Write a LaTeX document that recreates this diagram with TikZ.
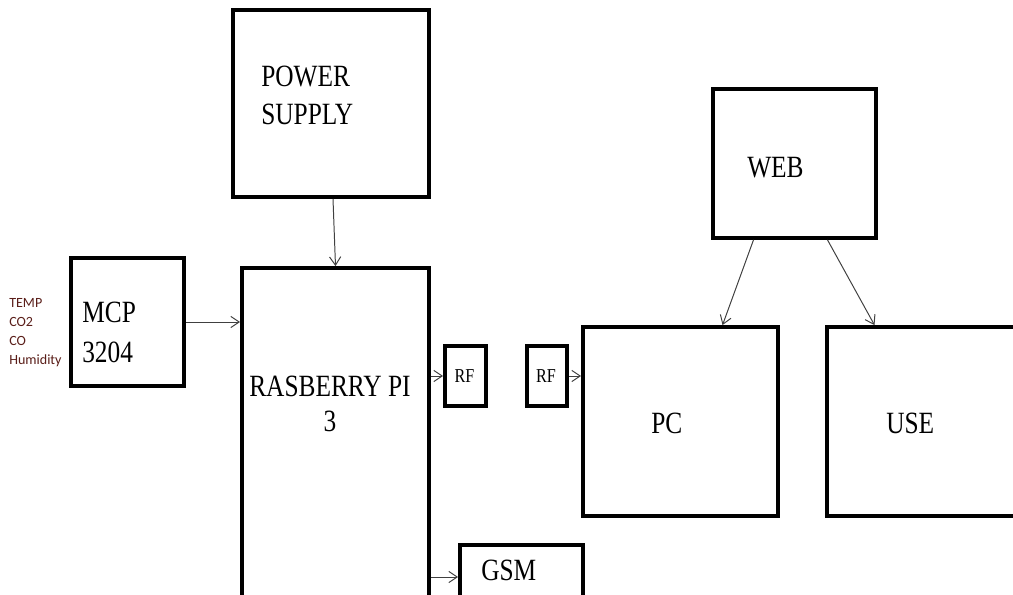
\documentclass[tikz,border=0pt]{standalone}
\usepackage{fontspec}
\setmainfont{Liberation Serif}
\newfontfamily\boxfont[FakeStretch=0.82]{Liberation Serif}
\newfontfamily\sensorfont{Carlito}
\usetikzlibrary{arrows.meta}
\newcommand{\px}{0.025cm}
\newcommand{\bigtxt}[1]{\boxfont\fontsize{22pt}{#1}\selectfont}
\definecolor{sensorred}{RGB}{90,30,25}
\definecolor{wiregray}{RGB}{64,64,64}

\begin{document}
\begin{tikzpicture}[
  x=\px, y=-\px,
  box/.style 2 args={draw, line width=2.7pt, inner sep=0pt,
    minimum width=#1*\px, minimum height=#2*\px},
  lbl/.style={inner sep=0pt, anchor=base west, font=\bigtxt{27pt}},
  arr/.style={draw=wiregray, line width=0.7pt, -{Straight Barb[length=6pt, width=8pt]}}
]
  \useasboundingbox (0,0) rectangle (1013,594);
  \clip (0,0) rectangle (1013,594);

  % blocks
  \node[box={196}{187}] (power) at (331,103.5) {};
  \node[box={113}{128}] (mcp) at (127.5,322) {};
  \node[box={187}{352}] (pi) at (335.5,444) {};
  \node[box={41}{60}] (rf1) at (465.5,376) {};
  \node[box={40}{60}] (rf2) at (547,376) {};
  \node[box={195}{189}] (pc) at (680.5,421.5) {};
  \node[box={213}{189}] (use) at (933.5,421.5) {};
  \node[box={163}{149}] (web) at (794.5,163.5) {};
  \node[box={123}{64}] (gsm) at (521.5,577) {};

  % texts
  \node[lbl, anchor=north west, align=left] (powertxt) at (261,66) {POWER\\SUPPLY};
  \node[lbl, anchor=north west, align=left, font=\bigtxt{28pt}] (mcptxt) at (82,302) {MCP\\3204};
  \node[lbl, anchor=north, align=center, font=\bigtxt{25pt}] (pitxt) at (330,376) {RASBERRY PI\\3};
  \node[lbl, anchor=base, font=\boxfont\fontsize{14pt}{16pt}\selectfont] (rf1txt) at (464.5,382) {RF};
  \node[lbl, anchor=base, font=\boxfont\fontsize{14pt}{16pt}\selectfont] (rf2txt) at (546,382) {RF};
  \node[lbl] (pctxt) at (651,433) {PC};
  \node[lbl] (usetxt) at (886,433) {USE};
  \node[lbl] (webtxt) at (747,177) {WEB};
  \node[lbl] (gsmtxt) at (481,580) {GSM};
  \node[inner sep=0pt, anchor=north west, align=left, text=sensorred,
    font=\sensorfont\fontsize{10pt}{13.5pt}\selectfont] (sensors) at (9,298)
    {TEMP\\CO2\\CO\\Humidity};

  % connectors
  \draw[arr] ([xshift=2*\px]power.south) -- (pi.north);
  \draw[arr] (mcp.east) -- (mcp.east -| pi.west);
  \draw[arr] (rf1.west -| pi.east) -- (rf1.west);
  \draw[arr] (rf2.east) -- (rf2.east -| pc.west);
  \draw[arr] ([xshift=-41*\px]web.south) -- ([xshift=42*\px]pc.north);
  \draw[arr] ([xshift=33*\px]web.south) -- ([xshift=-59*\px]use.north);
  \draw[arr] (gsm.west -| pi.east) -- (gsm.west);
\end{tikzpicture}
\end{document}
